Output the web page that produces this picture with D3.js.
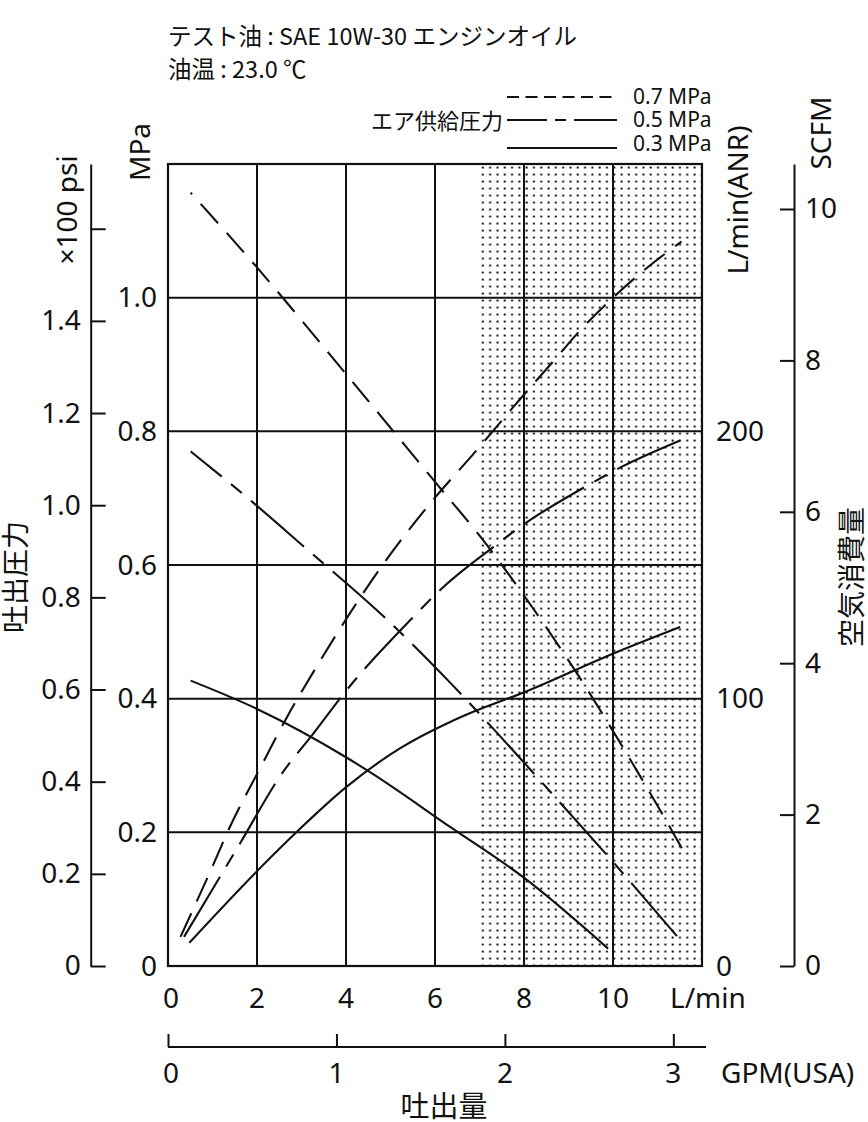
<!DOCTYPE html>
<html><head><meta charset="utf-8">
<script src="https://cdn.jsdelivr.net/npm/d3@7"></script>
<style>
body{margin:0;background:#fff;}
text{font-family:"Noto Sans","Noto Sans CJK JP",sans-serif;fill:#111;}
.jp{font-family:"Noto Sans CJK JP","Noto Sans",sans-serif;}
</style></head><body>
<svg id="c" width="868" height="1122"></svg>
<script>
// ---- data ----
const flowTicks = [0, 2, 4, 6, 8, 10];
const mpaTicks = [0, 0.2, 0.4, 0.6, 0.8, 1.0];
const psiTicks = [0, 0.2, 0.4, 0.6, 0.8, 1.0, 1.2, 1.4, 1.6];
const anrTicks = [0, 100, 200];
const scfmTicks = [0, 2, 4, 6, 8, 10];
const gpmTicks = [0, 1, 2, 3];

// discharge pressure (MPa) vs discharge flow (L/min)
const p07Flow  = [0.51, 1.99, 4.01, 6.08, 7.06, 8.13, 9.15, 10.16, 11.06, 11.55];
const p07Press = [1.157, 1.046, 0.885, 0.718, 0.639, 0.542, 0.442, 0.334, 0.233, 0.176];
const p05Flow  = [0.51, 1.92, 3.08, 4.91, 6.34, 7.24, 8.29, 9.93, 11.51];
const p05Press = [0.770, 0.693, 0.626, 0.519, 0.424, 0.360, 0.283, 0.161, 0.039];
const p03Flow  = [0.51, 1.99, 4.01, 4.54, 6.34, 8.02, 9.89];
const p03Press = [0.427, 0.385, 0.312, 0.290, 0.208, 0.131, 0.026];

// air consumption (L/min ANR) vs discharge flow (L/min)
const a07Flow = [0.28, 1.02, 1.39, 2.07, 2.67, 3.34, 4.09, 4.91, 5.89, 6.94, 7.91, 8.70, 9.33, 10.0, 10.68, 11.54];
const a07Air  = [10.9, 38, 52, 74, 93, 112, 132, 152, 173, 193, 212, 227, 239, 250, 260, 271];
const a05Flow = [0.36, 1.62, 2.56, 3.27, 3.98, 5.44, 6.19, 7.31, 8.02, 9.37, 10.19, 11.51];
const a05Air  = [10.9, 45.9, 72, 87, 102.5, 129.3, 141.8, 156.7, 165.5, 179.2, 186.7, 196.6];
const a03Flow = [0.48, 1.99, 2.82, 4.01, 5.21, 6.34, 6.86, 8.02, 10.01, 11.51];
const a03Air  = [8.7, 35.3, 49, 67, 81.4, 91.3, 95.1, 102.5, 116.9, 126.8];

const legendLabels = ["0.7 MPa", "0.5 MPa", "0.3 MPa"];
const headerLines = ["テスト油 : SAE 10W-30 エンジンオイル", "油温 : 23.0 ℃"];

// ---- scales ----
const L = 168, R = 702, T = 164, B = 966;
const LPM_PER_GPM = 3.78541, LPM_PER_SCFM = 28.3168, MPA_PER_100PSI = 0.689476;
const x = d3.scaleLinear().domain([0, 12]).range([L, R]);
const y = d3.scaleLinear().domain([0, 1.2]).range([B, T]);
const yAir = d3.scaleLinear().domain([0, 300]).range([B, T]);
const yPsi = d3.scaleLinear().domain([0, 1.2 / MPA_PER_100PSI]).range([B, T]);
const yScfm = d3.scaleLinear().domain([0, 300 / LPM_PER_SCFM]).range([B, T]);
const xGpm = d3.scaleLinear().domain([0, 12 / LPM_PER_GPM]).range([L, R]);

const svg = d3.select("#c");
svg.append("rect").attr("width", 868).attr("height", 1122).attr("fill", "#fff");

const defs = svg.append("defs");
const pat = defs.append("pattern").attr("id", "dots").attr("patternUnits", "userSpaceOnUse")
  .attr("x", x(7)).attr("y", T).attr("width", 7.3).attr("height", 7.0);
pat.append("rect").attr("x", 2.4).attr("y", 2.6).attr("width", 1.9).attr("height", 1.9).attr("fill", "#000");

// shaded region
svg.append("rect").attr("x", x(7)).attr("y", T).attr("width", x(12) - x(7)).attr("height", B - T)
  .attr("fill", "url(#dots)");

// grid
const grid = svg.append("g").attr("stroke", "#111").attr("stroke-width", 2);
grid.selectAll(".v").data([2, 4, 6, 8, 10]).join("line")
  .attr("x1", d => x(d)).attr("x2", d => x(d)).attr("y1", T).attr("y2", B);
grid.selectAll(".h").data([0.2, 0.4, 0.6, 0.8, 1.0]).join("line")
  .attr("x1", L).attr("x2", R).attr("y1", d => y(d)).attr("y2", d => y(d));
svg.append("rect").attr("x", L).attr("y", T).attr("width", R - L).attr("height", B - T)
  .attr("fill", "none").attr("stroke", "#111").attr("stroke-width", 2.2);

// curves
function curve(fx, fy, ys, dash, offset) {
  const pts = fx.map((v, i) => [x(v), ys(fy[i])]);
  const p = svg.append("path").attr("d", d3.line().curve(d3.curveMonotoneX)(pts))
    .attr("fill", "none").attr("stroke", "#111").attr("stroke-width", 2.1);
  if (dash) p.attr("stroke-dasharray", dash).attr("stroke-dashoffset", offset || 0);
}
const d07 = "26,13", d05 = "70,12,14,12";
curve(p07Flow, p07Press, y, d07, 24);
curve(a07Flow, a07Air, yAir, d07, 0);
curve(p05Flow, p05Press, y, d05, 30);
curve(a05Flow, a05Air, yAir, d05, 0);
curve(p03Flow, p03Press, y, null);
curve(a03Flow, a03Air, yAir, null);

// left psi axis
const gPsi = svg.append("g").attr("transform", "translate(90.7,0)")
  .call(d3.axisLeft(yPsi).tickValues(psiTicks).tickSizeInner(-15).tickSizeOuter(0).tickPadding(10)
    .tickFormat(d => d === 1.6 ? "" : (d === 0 ? "0" : d3.format(".1f")(d))));
gPsi.selectAll("path,line").attr("stroke", "#111").attr("stroke-width", 2);
gPsi.selectAll("text").attr("font-size", 28).attr("font-family", "Noto Sans").attr("fill", "#111");

// MPa labels
svg.append("g").selectAll("text").data(mpaTicks).join("text")
  .attr("x", 157).attr("y", d => y(d)).attr("dy", "0.35em").attr("text-anchor", "end")
  .attr("font-size", 28).text(d => d === 0 ? "0" : d3.format(".1f")(d));

// right air axis labels (no line)
svg.append("g").selectAll("text").data(anrTicks).join("text")
  .attr("x", 716).attr("y", d => yAir(d)).attr("dy", "0.35em").attr("text-anchor", "start")
  .attr("font-size", 28).text(d => d);

// SCFM axis
const gS = svg.append("g").attr("transform", "translate(794,0)")
  .call(d3.axisRight(yScfm).tickValues(scfmTicks).tickSizeInner(-14).tickSizeOuter(0).tickPadding(11)
    .tickFormat(d3.format("d")));
gS.selectAll("path,line").attr("stroke", "#111").attr("stroke-width", 2);
gS.selectAll("text").attr("font-size", 28).attr("font-family", "Noto Sans").attr("fill", "#111");

// flow labels
svg.append("g").selectAll("text").data(flowTicks).join("text")
  .attr("x", d => x(d) + (d === 0 ? 3 : 0)).attr("y", 998).attr("dy", "0.35em").attr("text-anchor", "middle")
  .attr("font-size", 28).text(d => d);
svg.append("text").attr("x", 670).attr("y", 998).attr("dy", "0.35em").attr("font-size", 28).text("L/min");

// GPM axis
const gG = svg.append("g").attr("transform", "translate(0,1047)")
  .call(d3.axisBottom(xGpm).tickValues(gpmTicks).tickSizeInner(-13).tickSizeOuter(0).tickFormat(""));
gG.select("path").attr("d", `M${L},0H706`);
gG.selectAll("path,line").attr("stroke", "#111").attr("stroke-width", 2);
svg.append("g").selectAll("text").data(gpmTicks).join("text")
  .attr("x", d => xGpm(d) + (d === 0 ? 3 : 0)).attr("y", 1073).attr("dy", "0.35em").attr("text-anchor", "middle")
  .attr("font-size", 28).text(d => d);
svg.append("text").attr("x", 721).attr("y", 1073).attr("dy", "0.35em").attr("font-size", 28).text("GPM(USA)");
svg.append("text").attr("class", "jp").attr("x", 444).attr("y", 1107).attr("dy", "0.35em")
  .attr("text-anchor", "middle").attr("font-size", 29).text("吐出量");

// rotated axis titles
function vtext(tx, ty, s, size, cls) {
  svg.append("text").attr("class", cls || null).attr("transform", `translate(${tx},${ty}) rotate(-90)`)
    .attr("text-anchor", "middle").attr("dy", "0.35em").attr("font-size", size).text(s);
}
vtext(67, 210, "×100 psi", 28);
vtext(140, 152, "MPa", 28);
vtext(16, 577, "吐出圧力", 28, "jp");
vtext(738, 200, "L/min(ANR)", 28);
vtext(821, 133, "SCFM", 28);
vtext(852, 577, "空気消費量", 28, "jp");

// header
svg.append("g").selectAll("text").data(headerLines).join("text").attr("class", "jp")
  .attr("x", 168).attr("y", (d, i) => 45 + i * 33).attr("font-size", 23.5).text(d => d);

// legend
const legY = [97, 120, 148];
const legDash = ["12,6.5", "40,8,11,8,60", null];
const lg = svg.append("g");
legY.forEach((ly, i) => {
  const l = lg.append("line").attr("x1", 507).attr("x2", 617).attr("y1", ly).attr("y2", ly)
    .attr("stroke", "#111").attr("stroke-width", 2);
  if (legDash[i]) l.attr("stroke-dasharray", legDash[i]);
  lg.append("text").attr("x", 633).attr("y", ly - (i === 2 ? 4 : 0)).attr("dy", "0.35em")
    .attr("font-size", 21).text(legendLabels[i]);
});
lg.append("text").attr("class", "jp").attr("x", 503).attr("y", 121).attr("dy", "0.35em")
  .attr("text-anchor", "end").attr("font-size", 22).text("エア供給圧力");
</script></body></html>
